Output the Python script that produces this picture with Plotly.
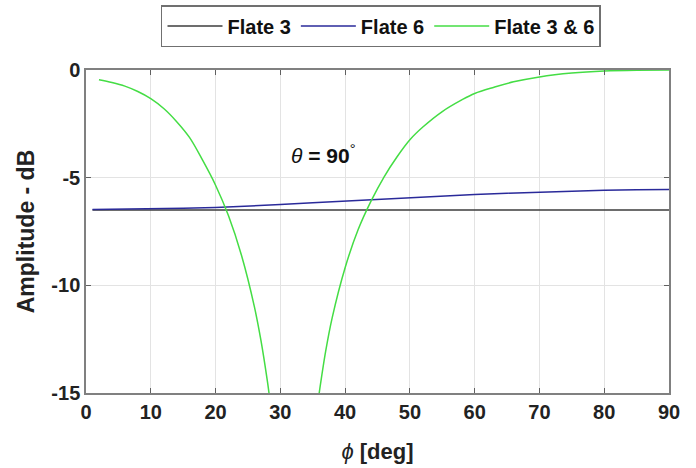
import plotly.graph_objects as go

# Data
phi_flat = [1, 10, 20, 30, 40, 50, 60, 70, 80, 90]
flate3 = [-6.5, -6.5, -6.5, -6.5, -6.5, -6.5, -6.5, -6.5, -6.5, -6.5]

phi6 = [1, 5, 10, 15, 20, 25, 30, 35, 40, 45, 50, 55, 60, 65, 70, 75, 80, 85, 90]
flate6 = [-6.48, -6.47, -6.45, -6.42, -6.38, -6.32, -6.25, -6.16, -6.08, -6.0,
          -5.92, -5.85, -5.78, -5.72, -5.67, -5.62, -5.58, -5.56, -5.55]

phi36_a = [2, 4, 6, 8, 10, 12, 14, 16, 18, 20, 22, 24, 26, 27, 28, 28.25]
flate36_a = [-0.45, -0.58, -0.75, -1.0, -1.33, -1.79, -2.4, -3.14, -4.19, -5.35,
             -6.77, -8.6, -11.0, -12.55, -14.45, -15.0]
phi36_b = [36, 37, 38, 40, 42, 44, 46, 48, 50, 52, 55, 58, 60, 63, 66, 70, 75, 80, 85, 90]
flate36_b = [-15.0, -13.06, -11.51, -9.18, -7.42, -6.09, -4.97, -4.04, -3.24, -2.65,
             -1.93, -1.39, -1.09, -0.8, -0.55, -0.32, -0.14, -0.045, -0.008, 0.0]

x_ticks = [0, 10, 20, 30, 40, 50, 60, 70, 80, 90]
x_ticktext = ["0", "10", "20", "30", "40", "50", "60", "70", "80", "90"]
y_ticks = [-15, -10, -5, 0]
y_ticktext = ["-15", "-10", "-5", "0"]

FONT = "Liberation Sans"

fig = go.Figure()
fig.add_trace(go.Scatter(x=phi_flat, y=flate3, mode="lines", name="Flate 3",
                         line=dict(color="#3c3c3c", width=1.5)))
fig.add_trace(go.Scatter(x=phi6, y=flate6, mode="lines", name="Flate 6",
                         line=dict(color="#2a2a9a", width=1.5)))
fig.add_trace(go.Scatter(x=phi36_a + [None] + phi36_b,
                         y=flate36_a + [None] + flate36_b,
                         mode="lines", name="Flate 3 & 6", connectgaps=False,
                         line=dict(color="#44dd44", width=1.5, shape="spline")))

fig.add_annotation(x=36.6, y=-3.9, text="<i>θ</i> <b>= 90</b><sup>°</sup>", showarrow=False,
                   font=dict(family=FONT, size=21, color="#111111"))

axis_common = dict(showgrid=True, gridcolor="#e3e3e3", gridwidth=1,
                   showline=True, linecolor="#808080", linewidth=1.5, mirror="ticks",
                   ticks="inside", ticklen=5, tickcolor="#606060", zeroline=False,
                   automargin=False,
                   tickfont=dict(family=FONT, size=20, color="#222222", weight="bold"))

fig.update_xaxes(range=[0, 90], tickvals=x_ticks, ticktext=x_ticktext, **axis_common,
                 title=dict(text="<i>ϕ</i> <b>[deg]</b>", standoff=22,
                            font=dict(family=FONT, size=22, color="#222222")))
fig.update_yaxes(range=[-15, 0], tickvals=y_ticks, ticktext=y_ticktext, **axis_common,
                 title=dict(text="Amplitude - dB", standoff=10,
                            font=dict(family=FONT, size=23, color="#222222", weight="bold")))

fig.update_layout(
    width=696, height=468,
    margin=dict(l=86, r=27, t=70, b=75, autoexpand=False),
    plot_bgcolor="white", paper_bgcolor="white",
    legend=dict(orientation="h", x=0.506, xanchor="center", y=1.201, yanchor="top",
                bordercolor="#707070", borderwidth=1.5, bgcolor="white",
                font=dict(family=FONT, size=20, color="#111111", weight="bold"),
                itemwidth=55, tracegroupgap=0),
    showlegend=True,
)

fig.write_html("out.html", config={"displayModeBar": False},
               post_script="document.body.style.margin='0';")
